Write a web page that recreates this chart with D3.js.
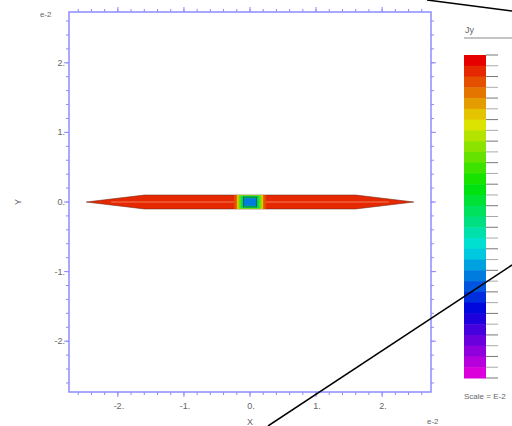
<!DOCTYPE html>
<html>
<head>
<meta charset="utf-8">
<script src="https://cdn.jsdelivr.net/npm/d3@7"></script>
<style>
  body { margin: 0; background: #fff; overflow: hidden; }
  text { font-family: "Liberation Sans", Arial, sans-serif; fill: #666; }
</style>
</head>
<body>
<script>
// valores del gráfico (unidades e-2)
var xTicks = [-2, -1, 0, 1, 2];
var yTicks = [-2, -1, 0, 1, 2];
var tickLabels = ["-2.", "-1.", "0.", "1.", "2."];

// contorno del conductor: posición x y semi-espesor
var wireX = [-2.48, -1.6, 1.6, 2.48];
var wireHalf = [0, 0.1, 0.1, 0];

// bandas de Jy en el centro: semi-ancho y nivel de la escala
var coreHalf = [0.24, 0.2, 0.17, 0.14, 0.1];
var coreLevel = [2, 5, 9, 14, 20];
var coreHalfY = [0.1, 0.1, 0.095, 0.09, 0.055];

var nLevels = 30;
var barTitle = "Jy";
var scaleLabel = "Scale = E-2";

var W = 512, H = 426;
var margin = { left: 69, top: 12, right: 81, bottom: 34 };

var svg = d3.select("body").append("svg").attr("width", W).attr("height", H);

var x = d3.scaleLinear().domain([-2.74, 2.74]).range([margin.left, W - margin.right]);
var y = d3.scaleLinear().domain([-2.73, 2.73]).range([H - margin.bottom, margin.top]);

var color = d3.scaleSequential(d3.interpolateHslLong("hsl(0,100%,45%)", "hsl(300,100%,43%)")).domain([0, nLevels - 1]);

// conductor
var area = d3.area()
  .x(function (d) { return x(d.x); })
  .y0(function (d) { return y(-d.h); })
  .y1(function (d) { return y(d.h); });

var wire = wireX.map(function (v, i) { return { x: v, h: wireHalf[i] }; });

svg.append("path").datum(wire).attr("d", area)
  .attr("fill", color(1)).attr("stroke", "#6a2a18").attr("stroke-width", 0.8).attr("stroke-opacity", 0.7);

// línea clara en el eje del conductor
svg.append("line")
  .attr("x1", x(-2.1)).attr("x2", x(2.1)).attr("y1", y(0)).attr("y2", y(0))
  .attr("stroke", "#f6a080").attr("stroke-width", 1).attr("stroke-opacity", 0.7);

// bandas centrales
svg.selectAll("rect.core").data(coreHalf).enter().append("rect").attr("class", "core")
  .attr("x", function (d) { return x(-d); })
  .attr("width", function (d) { return x(d) - x(-d); })
  .attr("y", function (d, i) { return y(coreHalfY[i]); })
  .attr("height", function (d, i) { return y(-coreHalfY[i]) - y(coreHalfY[i]); })
  .attr("fill", function (d, i) { return color(coreLevel[i]); });

svg.append("rect")
  .attr("x", x(-0.1)).attr("width", x(0.1) - x(-0.1))
  .attr("y", y(0.07)).attr("height", y(-0.07) - y(0.07))
  .attr("fill", "none").attr("stroke", "#222").attr("stroke-width", 1).attr("stroke-opacity", 0.6);

// marco y ticks
var frame = "#8c8cff";
svg.append("rect")
  .attr("x", x(-2.74)).attr("y", y(2.73))
  .attr("width", x(2.74) - x(-2.74)).attr("height", y(-2.73) - y(2.73))
  .attr("fill", "none").attr("stroke", frame).attr("stroke-width", 1.5);

var minorX = d3.range(-2.6, 2.7, 0.2).map(function (v) { return Math.round(v * 10) / 10; });

function drawTicks(g, scale, values, size, orient) {
  values.forEach(function (v) {
    var p = scale(v), l = g.append("line").attr("stroke", frame).attr("stroke-width", 1);
    if (orient === "top") l.attr("x1", p).attr("x2", p).attr("y1", margin.top).attr("y2", margin.top - size);
    if (orient === "bottom") l.attr("x1", p).attr("x2", p).attr("y1", H - margin.bottom).attr("y2", H - margin.bottom + size);
    if (orient === "left") l.attr("y1", p).attr("y2", p).attr("x1", margin.left).attr("x2", margin.left - size);
    if (orient === "right") l.attr("y1", p).attr("y2", p).attr("x1", W - margin.right).attr("x2", W - margin.right + size);
  });
}
var tg = svg.append("g");
["top", "bottom"].forEach(function (o) {
  drawTicks(tg, x, minorX, 3, o);
  drawTicks(tg, x, xTicks, 5, o);
});
["left", "right"].forEach(function (o) {
  drawTicks(tg, y, minorX, 3, o);
  drawTicks(tg, y, yTicks, 5, o);
});

svg.selectAll("text.xt").data(xTicks).enter().append("text").attr("class", "xt")
  .attr("x", function (d) { return x(d) + 1; }).attr("y", H - margin.bottom + 17)
  .attr("text-anchor", "middle").attr("font-size", 9)
  .text(function (d, i) { return tickLabels[i]; });

svg.selectAll("text.yt").data(yTicks).enter().append("text").attr("class", "yt")
  .attr("x", margin.left - 4).attr("y", function (d) { return y(d) + 3; })
  .attr("text-anchor", "end").attr("font-size", 9)
  .text(function (d, i) { return tickLabels[i]; });

svg.append("text").attr("x", 40).attr("y", 17).attr("font-size", 8).text("e-2");
svg.append("text").attr("x", 427).attr("y", 424).attr("font-size", 8).text("e-2");
svg.append("text").attr("x", x(0)).attr("y", 425).attr("text-anchor", "middle").attr("font-size", 9).text("X");
svg.append("text").attr("transform", "translate(21," + y(0) + ") rotate(-90)")
  .attr("text-anchor", "middle").attr("font-size", 9).text("Y");

// barra de color
var bar = { x: 464, w: 22, top: 55, bottom: 378 };
var by = d3.scaleLinear().domain([0, nLevels]).range([bar.top, bar.bottom]);
var levels = d3.range(nLevels);

svg.selectAll("rect.lev").data(levels).enter().append("rect").attr("class", "lev")
  .attr("x", bar.x).attr("width", bar.w)
  .attr("y", function (d) { return by(d); })
  .attr("height", function (d) { return by(d + 1) - by(d) + 0.5; })
  .attr("fill", function (d) { return color(d); });

svg.selectAll("line.lt").data(d3.range(nLevels + 1)).enter().append("line").attr("class", "lt")
  .attr("x1", bar.x + bar.w).attr("x2", bar.x + bar.w + 12)
  .attr("y1", function (d) { return by(d); }).attr("y2", function (d) { return by(d); })
  .attr("stroke", function (d) { return d % 2 ? "#aaa" : "#777"; }).attr("stroke-width", 1);

svg.append("text").attr("x", 465).attr("y", 33).attr("font-size", 9).text(barTitle);
svg.append("line").attr("x1", 464).attr("x2", 512).attr("y1", 38).attr("y2", 38)
  .attr("stroke", "#888").attr("stroke-width", 1);
svg.append("text").attr("x", 464).attr("y", 399).attr("font-size", 8).text(scaleLabel);

// líneas de zoom
svg.append("line").attr("x1", 427).attr("y1", 0).attr("x2", 512).attr("y2", 11)
  .attr("stroke", "#000").attr("stroke-width", 1.5);
svg.append("line").attr("x1", 268).attr("y1", 426).attr("x2", 512).attr("y2", 265)
  .attr("stroke", "#000").attr("stroke-width", 1.5);
</script>
</body>
</html>
